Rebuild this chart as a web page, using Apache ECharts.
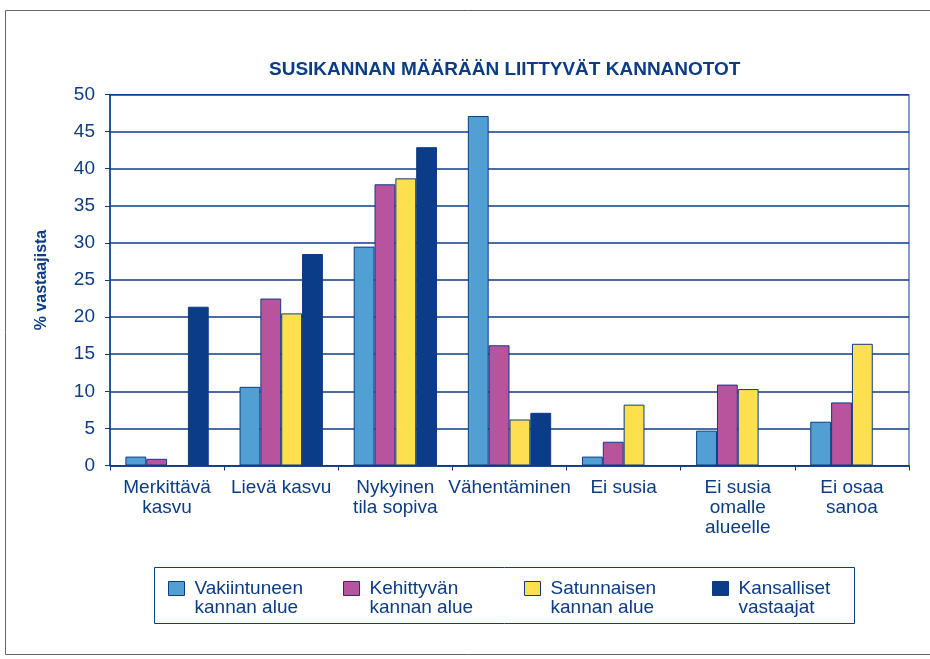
<!DOCTYPE html>
<html>
<head>
<meta charset="utf-8">
<script src="https://cdn.jsdelivr.net/npm/echarts@6/dist/echarts.min.js"></script>
<style>
  html, body { margin: 0; padding: 0; background: #fff; }
  #chart { width: 930px; height: 659px; }
</style>
</head>
<body>
<div id="chart"></div>
<script>
// kategoriat ja sarjat
const categories = ['Merkittävä\nkasvu', 'Lievä kasvu', 'Nykyinen\ntila sopiva', 'Vähentäminen', 'Ei susia', 'Ei susia\nomalle\nalueelle', 'Ei osaa\nsanoa']
const seriesNames = ['Vakiintuneen\nkannan alue', 'Kehittyvän\nkannan alue', 'Satunnaisen\nkannan alue', 'Kansalliset\nvastaajat']
const vakiintunut = [1.2, 10.6, 29.5, 47.1, 1.2, 4.7, 5.9]
const kehittyva = [0.9, 22.5, 37.9, 16.2, 3.2, 10.9, 8.5]
const satunnainen = [null, 20.5, 38.7, 6.2, 8.2, 10.3, 16.4]
const kansallinen = [21.4, 28.5, 42.9, 7.1, null, null, null]
const yTicks = [0, 50, 5]

const navy = '#0c3c86'
const colors = ['#529fd4', '#b8549e', '#fddf4f', '#0b3c87']
const font = '"Liberation Sans", Arial, sans-serif'

const seriesData = [vakiintunut, kehittyva, satunnainen, kansallinen]
const legendLeft = [168, 343, 524, 712]

const chart = echarts.init(document.getElementById('chart'))
chart.setOption({
    backgroundColor: '#fff',
    textStyle: {fontFamily: font},
    title: {
        text: 'SUSIKANNAN MÄÄRÄÄN LIITTYVÄT KANNANOTOT',
        left: 264, top: 55,
        textStyle: {color: navy, fontSize: 19, fontWeight: 'bold', fontFamily: font}
    },
    graphic: [
        {type: 'rect', shape: {x: 5.5, y: 10.5, width: 940, height: 644}, style: {fill: 'none', stroke: '#666', lineWidth: 1}, z: -1},
        {type: 'rect', shape: {x: 154.5, y: 567.5, width: 700, height: 56}, style: {fill: 'none', stroke: navy, lineWidth: 1}}
    ],
    // yksi selite per sarja, jotta paikat vastaavat kuvaa
    // tyhjä ensimmäinen rivi nostaa ruudun ensimmäisen tekstirivin kohdalle
    legend: seriesNames.map((n, i) => ({
        data: [n],
        left: legendLeft[i], top: 560,
        padding: 0,
        icon: 'rect',
        itemWidth: 16, itemHeight: 14,
        selectedMode: false,
        formatter: name => '\n' + name,
        itemStyle: {borderColor: navy, borderWidth: 1},
        textStyle: {color: navy, fontSize: 19, lineHeight: 19, padding: [0, 0, 0, 5], fontFamily: font}
    })),
    grid: {
        left: 110, top: 94.5, right: 21, bottom: 193.5,
        show: true, borderColor: navy, borderWidth: 1
    },
    xAxis: {
        type: 'category',
        data: categories,
        axisLine: {lineStyle: {color: navy, width: 1.5}},
        axisTick: {show: true, length: 5, lineStyle: {color: navy}},
        axisLabel: {color: navy, fontSize: 19, lineHeight: 20, margin: 12, interval: 0, fontFamily: font}
    },
    yAxis: {
        type: 'value',
        min: yTicks[0], max: yTicks[1], interval: yTicks[2],
        name: '% vastaajista',
        nameLocation: 'middle',
        nameGap: 60,
        nameTextStyle: {color: navy, fontSize: 16, fontWeight: 'bold', fontFamily: font},
        axisLine: {show: true, lineStyle: {color: navy, width: 1.5}},
        axisTick: {show: true, length: 5, lineStyle: {color: navy}},
        axisLabel: {color: navy, fontSize: 19, margin: 15, fontFamily: font},
        splitLine: {lineStyle: {color: navy, width: 1.5}}
    },
    series: seriesNames.map((n, i) => ({
        name: n,
        type: 'bar',
        data: seriesData[i],
        barGap: '0%',
        barCategoryGap: '27%',
        itemStyle: {color: colors[i], borderColor: navy, borderWidth: 1},
        animation: false
    }))
})
</script>
</body>
</html>
